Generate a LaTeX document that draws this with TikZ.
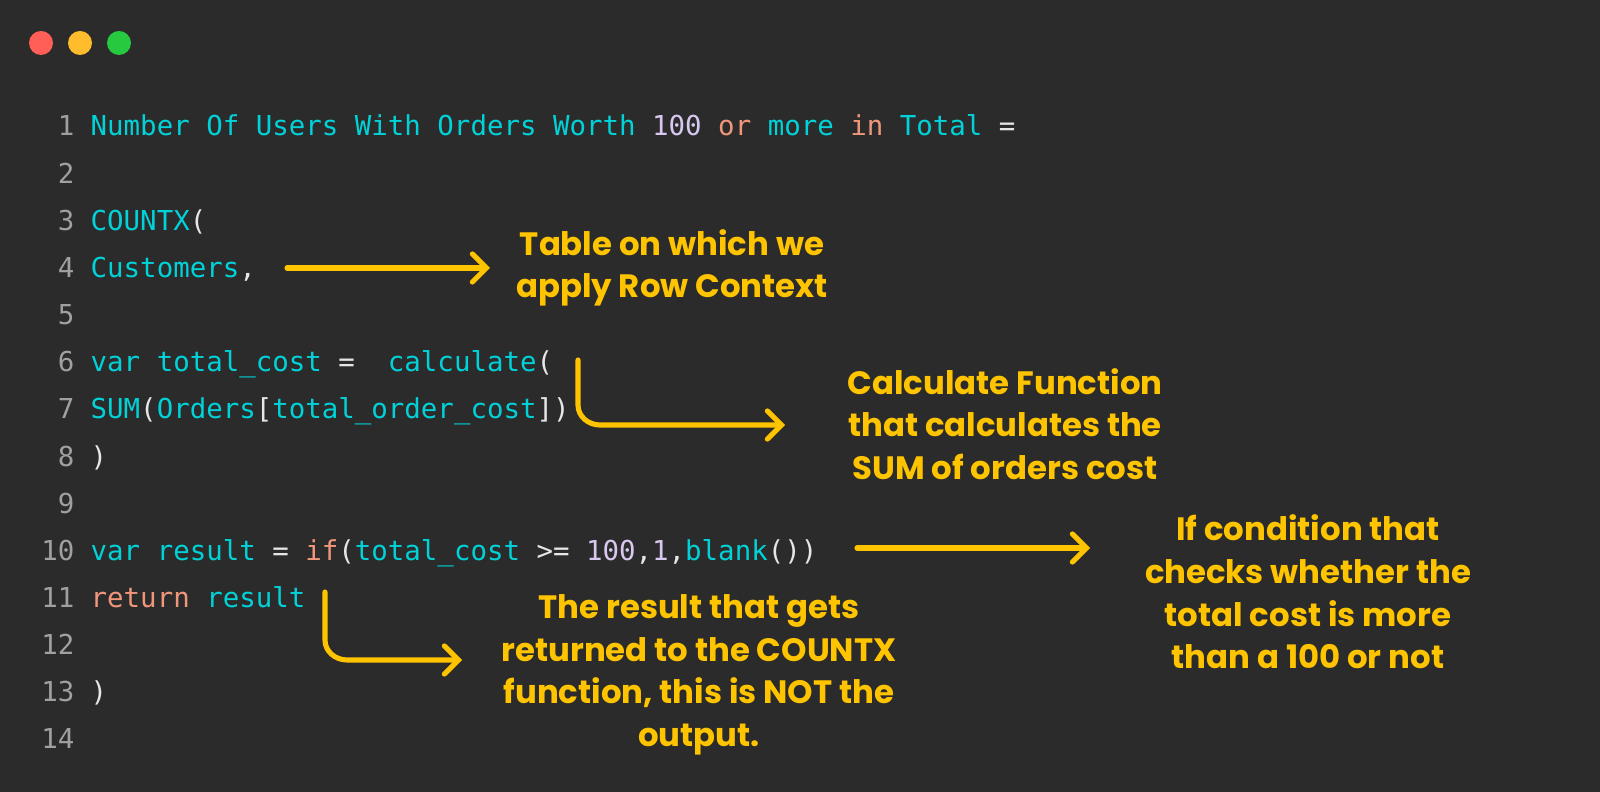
\documentclass[tikz,border=0pt]{standalone}
\usepackage{fontspec}
\usetikzlibrary{arrows.meta}
\newfontfamily\codefont{DejaVu Sans Mono}
\newfontfamily\notefont{Poppins}
\definecolor{bg}{HTML}{2B2B2B}
\definecolor{ccy}{HTML}{00D2D8}
\definecolor{csa}{HTML}{F0967A}
\definecolor{cpu}{HTML}{D8C8F0}
\definecolor{cwh}{HTML}{E6E6E6}
\definecolor{cgr}{HTML}{A0A0A0}
\definecolor{ylw}{HTML}{FFC400}
\newcommand\Ccy[1]{\textcolor{ccy}{#1}}
\newcommand\Csa[1]{\textcolor{csa}{#1}}
\newcommand\Cpu[1]{\textcolor{cpu}{#1}}
\newcommand\Cwh[1]{\textcolor{cwh}{#1}}
\newcommand\us{\string_}
\begin{document}
\begin{tikzpicture}[x=0.01cm,y=-0.01cm,
  num/.style={anchor=base east,inner sep=0,font=\codefont\fontsize{7.8}{9}\selectfont,text=cgr},
  code/.style={anchor=base west,inner sep=0,font=\codefont\fontsize{7.8}{9}\selectfont},
  note/.style={align=center,inner sep=0,text=ylw,font=\notefont\bfseries\fontsize{9.2}{12.1}\selectfont},
  arr/.style={draw=ylw,line width=1.45pt,line cap=round,-{Straight Barb[length=4pt,width=8pt,line cap=round]}}]
\useasboundingbox (0,0) rectangle (1600,792);
\fill[bg] (0,0) rectangle (1600,792);
\fill[fill={rgb,255:red,255;green,95;blue,86}] (41,43) circle (12);
\fill[fill={rgb,255:red,255;green,189;blue,46}] (80,43) circle (12);
\fill[fill={rgb,255:red,39;green,201;blue,63}] (119,43) circle (12);
\foreach \i in {1,...,14} {\node[num] (n\i) at (75,{136+(\i-1)*47.15}) {\i};}
\node[code] (l1) at (90,136) {\Ccy{Number Of Users With Orders Worth} \Cpu{100} \Csa{or} \Ccy{more} \Csa{in} \Ccy{Total} \Cwh{=}};
\node[code] (l3) at (90,230.3) {\Ccy{COUNTX}\Cwh{(}};
\node[code] (l4) at (90,277.5) {\Ccy{Customers}\Cwh{,}};
\node[code] (l6) at (90,371.8) {\Ccy{var total\us cost} \Cwh{=}\ \ \Ccy{calculate}\Cwh{(}};
\node[code] (l7) at (90,418.9) {\Ccy{SUM}\Cwh{(}\Ccy{Orders}\Cwh{[}\Ccy{total\us order\us cost}\Cwh{])}};
\node[code] (l8) at (90,466.1) {\Cwh{)}};
\node[code] (l10) at (90,560.4) {\Ccy{var result} \Cwh{=} \Csa{if}\Cwh{(}\Ccy{total\us cost} \Cwh{>=} \Cpu{100}\Cwh{,}\Cpu{1}\Cwh{,}\Ccy{blank}\Cwh{())}};
\node[code] (l11) at (90,607.5) {\Csa{return} \Ccy{result}};
\node[code] (l13) at (90,701.8) {\Cwh{)}};
\node[note] (t1) at (672,268) {Table on which we\\apply Row Context};
\node[note] (t2) at (1005,424) {Calculate Function\\that calculates the\\SUM of orders cost};
\node[note] (t3) at (1308,592) {If condition that\\checks whether the\\total cost is more\\than a 100 or not};
\node[note] (t4) at (699,675) {The result that gets\\returned to the COUNTX\\function, this is NOT the\\output.};
\coordinate (a1) at (287,268);
\coordinate (b1) at (490,268);
\coordinate (a2) at (578,360);
\coordinate (a3) at (857,548);
\coordinate (b3) at (1090,548);
\coordinate (a4) at (325,592);
\draw[arr] (a1) -- (b1);
\draw[arr] (a2) -- (578,405) to[out=-90,in=180] (600,425) -- (785,425);
\draw[arr] (a3) -- (b3);
\draw[arr] (a4) -- (325,640) to[out=-90,in=180] (347,660) -- (462,660);
\end{tikzpicture}
\end{document}
